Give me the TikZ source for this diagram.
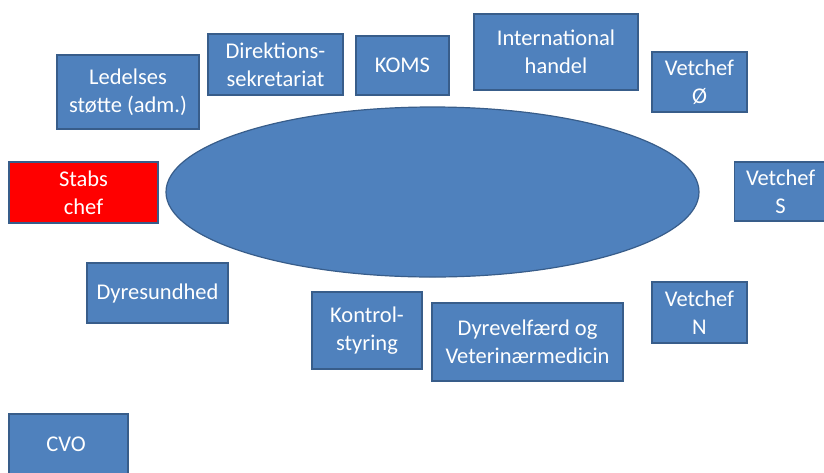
\documentclass[tikz,border=0pt]{standalone}
\usepackage{fontspec}
\setmainfont{Carlito}
\usetikzlibrary{shapes.geometric}
\definecolor{boxfill}{HTML}{4F81BD}
\definecolor{boxline}{HTML}{385D8A}
\definecolor{redfill}{HTML}{FF0000}
\tikzset{
  labelfont/.style={font=\fontsize{22.5}{28}\selectfont},
  unitbox/.style={draw=boxline, fill=boxfill, line width=1.2pt, text=white,
    align=center, inner sep=0pt, labelfont},
  redbox/.style={unitbox, fill=redfill},
}
\begin{document}
\begin{tikzpicture}[x=1pt,y=-1pt]
\clip (0,0) rectangle (824,472);
\fill[white] (0,0) rectangle (824,472);
\node[ellipse, draw=boxline, fill=boxfill, line width=1.2pt, minimum width=533pt, minimum height=170pt, inner sep=0pt] (core) at (432.5,192) {};
\node[unitbox, minimum width=142pt, minimum height=74pt] (led) at (128,92) {Ledelses\\støtte (adm.)};
\node[unitbox, minimum width=135pt, minimum height=61pt] (dir) at (275.5,64.5) {Direktions-\\sekretariat};
\node[unitbox, minimum width=93pt, minimum height=59pt] (koms) at (402.5,65.5) {KOMS};
\node[unitbox, minimum width=164pt, minimum height=76pt] (intl) at (556,52) {International\\handel};
\node[unitbox, minimum width=95pt, minimum height=60pt] (vo) at (699.5,82) {Vetchef\\Ø};
\node[unitbox, minimum width=92pt, minimum height=59pt, text width=88pt, anchor=west] (vs) at (734,191.5) {Vetchef\\S};
\node[redbox, minimum width=149pt, minimum height=61pt] (stab) at (83.5,192.5) {Stabs\\chef};
\node[unitbox, minimum width=141pt, minimum height=60pt] (dyr) at (157.5,293) {Dyresundhed};
\node[unitbox, minimum width=110pt, minimum height=77pt] (kon) at (367,330.5) {Kontrol-\\styring};
\node[unitbox, minimum width=191pt, minimum height=78pt] (dvm) at (527.5,342) {Dyrevelfærd og\\Veterinærmedicin};
\node[unitbox, minimum width=95pt, minimum height=61pt] (vn) at (699.5,312.5) {Vetchef\\N};
\node[unitbox, minimum width=119pt, minimum height=66pt] (cvo) at (68.5,447) {};
\node[text=white, labelfont] (cvot) at (66,444) {CVO};
\end{tikzpicture}
\end{document}
